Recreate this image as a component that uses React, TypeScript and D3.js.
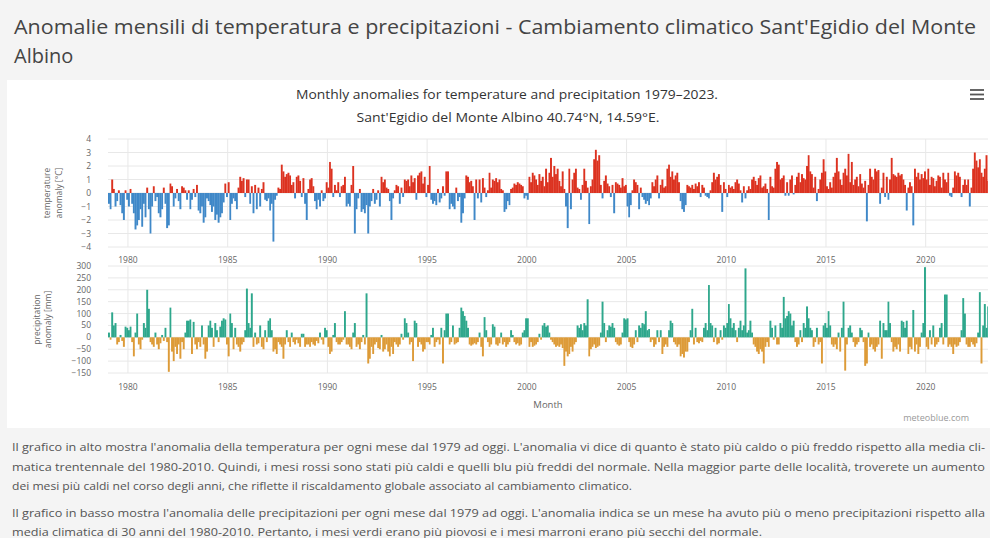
import React from "react";
import * as d3 from "d3";

const START_YEAR = 1979;

// Monthly temperature anomaly [°C], Jan 1979 – Feb 2023 (one row per year)
const temperatureAnomaly: number[] = [
  -0.8, -1.2, 1.0, 0.3, -1.0, -0.6, 0.2, -0.9, -1.5, -2.0, 0.2, -0.5, // 1979
  -1.0, 0.3, -0.8, -1.5, -2.7, -2.4, -2.0, -1.2, -2.5, -0.8, -1.8, 0.4, // 1980
  -1.2, -3.0, -1.0, 0.5, -0.6, -0.3, -1.5, -1.8, -1.2, 0.4, -0.8, -2.6, // 1981
  -2.4, 0.7, 0.5, -1.0, -0.4, 0.3, -0.6, -1.2, 0.5, 0.4, 0.2, -0.5, // 1982
  0.2, -1.2, -0.5, 0.3, -0.3, 0.6, -1.3, -1.5, -1.0, -2.2, -1.8, -0.4, // 1983
  -0.6, -0.9, -1.4, -1.0, -2.0, -1.6, -2.2, -1.8, -1.5, -0.7, 0.7, -0.3, // 1984
  0.8, -2.0, -0.8, -0.4, -0.6, -1.2, 0.4, 1.2, 0.9, 1.1, -0.3, 1.0, // 1985
  1.0, -0.8, 0.5, -1.5, 0.6, -1.2, 0.4, -1.0, 0.3, 0.8, -0.5, -0.6, // 1986
  -0.4, -1.3, -0.8, -3.6, -0.5, -0.2, 0.4, 0.3, 2.1, 1.6, 1.2, 1.4, // 1987
  1.5, 1.3, 0.6, 0.8, -0.4, 1.2, 1.3, 0.9, -0.3, 1.1, -0.8, -2.0, // 1988
  0.3, 1.0, 1.1, 0.5, -0.6, -1.2, -0.5, -1.0, 0.2, -0.6, -0.4, 0.8, // 1989
  0.4, 2.3, 1.8, -0.3, 0.6, 0.2, 0.8, -0.3, 0.5, 0.6, 1.2, -1.0, // 1990
  -0.8, -1.0, 0.6, 2.0, -3.0, -1.2, -0.4, 0.3, -1.4, -1.2, -1.5, -0.9, // 1991
  -3.0, -1.0, -0.6, 0.3, -0.8, -0.5, 0.2, -1.0, 1.2, 0.8, 1.0, 0.4, // 1992
  0.3, -0.6, -2.0, -0.4, 0.2, 0.6, 0.5, -0.8, 0.4, -0.3, 1.0, 0.9, // 1993
  1.0, 0.5, 1.3, 0.8, 1.1, -0.5, 1.3, 1.5, 1.6, 0.7, 1.2, -0.3, // 1994
  0.6, 2.0, -0.5, -0.8, -0.6, -0.9, 0.3, -0.7, -0.4, 0.5, -0.2, 1.6, // 1995
  1.6, -1.2, -0.8, -1.0, -1.2, 0.4, -0.6, -0.3, -2.2, -1.5, -0.4, 1.3, // 1996
  1.2, 0.8, 0.9, 0.5, -2.0, 1.0, -0.4, 1.0, -0.7, 1.1, 0.4, -0.3, // 1997
  0.2, 1.5, 0.4, 1.0, 0.9, 1.1, 0.8, 1.0, 0.3, 0.2, -1.4, -1.2, // 1998
  -0.6, -0.9, 0.3, 0.4, 0.7, 0.6, 0.8, 0.7, 0.6, 0.5, -0.4, -0.2, // 1999
  -0.5, 1.2, 0.8, 1.5, 1.3, 1.0, 0.6, 1.4, 0.9, 1.2, 0.5, 1.8, // 2000
  0.8, 1.5, 2.6, 1.2, 2.0, 1.4, 1.8, 0.9, 0.5, 1.6, 0.3, -1.0, // 2001
  -2.6, 1.8, -1.2, 1.0, 1.5, 1.8, 0.4, 0.3, -0.5, 0.6, 1.8, 0.9, // 2002
  0.4, -2.3, 0.5, 1.0, 2.5, 3.2, 2.4, 2.8, 0.6, -0.4, 0.9, 1.3, // 2003
  0.7, 0.5, -0.3, 0.6, -1.5, 0.8, 0.7, 0.6, 0.4, 1.1, 0.5, 0.6, // 2004
  -1.0, -1.8, -0.9, 0.2, 1.0, 0.8, 0.6, -1.2, 0.4, -0.3, -0.5, -0.8, // 2005
  -0.6, -0.9, -0.4, 0.8, 0.5, 1.0, 1.3, -0.4, 0.6, 1.0, 0.4, 0.5, // 2006
  1.8, 2.1, 1.2, 1.6, 1.0, 1.3, 1.5, 0.8, -0.6, -1.2, -1.4, -0.9, // 2007
  0.6, 0.5, 0.4, 0.6, 0.3, 0.7, 0.5, 0.8, -0.3, 0.6, 0.4, -0.2, // 2008
  -0.3, -0.4, 0.2, 0.8, 1.5, 1.0, 1.2, 1.4, 0.6, -1.4, 0.8, 0.3, // 2009
  -0.3, 0.6, 0.4, 0.5, 0.3, 0.8, 1.0, 0.7, 0.2, -0.7, 0.5, -0.4, // 2010
  0.2, 0.5, 0.3, 1.0, 1.2, 0.9, 0.6, 1.1, 1.3, 0.4, 0.5, 0.7, // 2011
  0.3, -2.0, 1.2, 0.5, 0.4, 1.8, 2.3, 2.1, 1.0, 1.1, 1.3, -0.2, // 2012
  0.8, -0.2, 1.0, 1.3, -0.1, 0.6, 1.2, 1.5, 0.8, 1.4, 1.1, 1.0, // 2013
  2.0, 2.8, 1.6, 1.4, 0.4, 1.2, -0.6, 0.3, 1.0, 1.5, 2.5, 1.6, // 2014
  0.5, 0.3, 0.8, 0.4, 1.2, 1.5, 2.6, 1.6, 1.0, 0.6, 1.5, 1.8, // 2015
  1.3, 2.9, 0.8, 2.3, 0.6, 1.0, 1.2, 0.5, 1.4, 0.7, 0.4, 0.9, // 2016
  -2.1, 0.6, 1.8, 1.2, 1.0, 1.8, 1.6, 1.7, -0.8, 0.4, 1.5, -0.3, // 2017
  1.2, -0.5, 1.0, 2.6, 1.4, 1.3, 1.2, 1.5, 1.3, 1.4, 1.0, 0.6, // 2018
  -1.3, 0.4, 0.8, 0.5, -2.4, 1.8, 1.2, 1.5, 1.0, 1.4, 1.1, 1.6, // 2019
  1.0, 1.8, 0.6, 1.2, 1.1, 0.5, 0.9, 1.3, 1.2, 0.4, 1.5, 1.0, // 2020
  0.8, 1.5, -0.2, -0.3, 0.4, 1.6, 1.3, 1.5, 1.2, -0.3, 0.6, 1.0, // 2021
  0.6, 1.0, -1.0, 0.4, 1.8, 3.0, 2.4, 1.9, 2.5, 1.5, 1.2, 1.8, // 2022
  2.8, 0.9, // 2023
];

// Monthly precipitation anomaly [mm], Jan 1979 – Feb 2023 (one row per year)
const precipitationAnomaly: number[] = [
  20, -10, 105, 50, 60, -30, -20, 10, -15, -40, 45, 40, // 1979
  30, 45, -20, -80, 20, 100, -30, -50, -10, 60, 40, 200, // 1980
  120, -20, -30, -40, 20, -30, -50, -25, 10, -15, 40, -20, // 1981
  -145, 125, -60, -100, -40, -70, -30, -90, -20, -50, 20, 70, // 1982
  70, 75, -70, 65, -30, -50, -20, -40, 50, -30, -90, -60, // 1983
  50, 70, 40, -40, 60, 30, -20, 45, 70, 80, 75, -30, // 1984
  -80, 100, 60, -50, 40, -30, -40, -60, -30, -20, 30, 205, // 1985
  60, 40, 185, -40, 20, -30, -25, 50, -40, -50, 30, -20, // 1986
  70, 80, 30, -60, -50, -70, -20, -30, -40, -90, -30, 30, // 1987
  -20, -40, 20, -20, -30, -10, -25, -40, 15, 15, -40, -30, // 1988
  -30, -40, -20, -30, -35, -15, -25, 20, -10, -30, 40, 30, // 1989
  -40, -70, -60, 10, 60, -20, -30, -30, -20, -10, 110, -30, // 1990
  -30, -40, -50, 20, 60, -40, -30, -50, -20, 10, -30, 185, // 1991
  -110, -90, -40, -70, -30, -20, -45, -50, 10, -60, -50, -30, // 1992
  -60, -80, -40, -70, -20, -30, -40, -30, 15, -10, 80, 60, // 1993
  20, -30, -20, -100, 70, 60, -40, -20, -30, -60, -50, -20, // 1994
  -20, -30, 10, 40, -40, -20, -10, -30, 40, -110, 30, 100, // 1995
  100, -30, -20, 50, -30, -25, -20, 40, 125, 110, 90, 70, // 1996
  40, -30, -35, -30, -25, -30, -20, 20, -40, -80, 85, 30, // 1997
  -20, -40, -30, 55, 45, -30, -35, -25, 20, -30, -20, -40, // 1998
  -30, -20, 30, 10, -20, -30, -25, -35, -30, 20, 30, 80, // 1999
  80, -40, -20, -40, -35, -30, -20, 15, -10, 50, 60, 45, // 2000
  50, 20, -10, -20, -30, -40, -35, -40, -30, -45, -120, -60, // 2001
  -80, -70, -40, -60, -30, -20, 50, 40, 55, 30, 60, 50, // 2002
  160, -80, -50, -40, -30, -45, -40, -35, 20, 150, 60, -20, // 2003
  30, 50, 45, 60, 40, -20, -30, -35, -30, 20, 80, 75, // 2004
  80, -20, -40, -45, -30, 30, -20, 50, 40, 60, 55, 110, // 2005
  30, 35, -20, -10, -40, -30, 30, -20, 30, -70, -40, -30, // 2006
  -40, 30, 70, 60, -20, -30, -40, -30, -80, -70, -85, -60, // 2007
  -60, -20, 30, 120, -30, 40, -20, -25, -15, -20, 40, 60, // 2008
  30, 220, 60, 50, -20, 40, -30, -25, 30, -10, 50, 40, // 2009
  60, 140, 80, 40, 60, 30, -20, 40, 70, 30, 50, 290, // 2010
  20, 30, 70, 20, -30, -40, -60, -70, -50, -60, -110, -40, // 2011
  -20, -40, 70, 40, -10, 50, -30, -30, 60, 40, 170, 80, // 2012
  90, 110, 100, 50, 70, -20, -40, -30, 30, -20, 60, 40, // 2013
  130, 80, 40, 30, -40, -20, 40, -30, -20, -110, 50, 60, // 2014
  40, 110, 50, -30, -40, -30, -50, 20, -60, 40, 150, -140, // 2015
  -30, 40, 50, 20, -20, -40, -30, -20, 40, 30, -20, -120, // 2016
  -110, 20, -40, -30, -50, -60, -40, -30, 70, -90, 60, 30, // 2017
  30, 150, 60, -20, -60, -40, -50, -30, -60, 70, 65, 40, // 2018
  70, -70, -40, -50, 115, -60, -30, -70, -40, 20, 60, 295, // 2019
  -40, -50, 30, -30, 50, -40, -30, -20, 40, 60, -30, 180, // 2020
  180, -40, -30, -40, -70, -30, -40, -35, -20, 30, 165, 100, // 2021
  -30, -40, -40, -20, -30, -40, -25, 20, 190, -110, 50, 140, // 2022
  40, 130, // 2023
];

const yearTicks = [1980, 1985, 1990, 1995, 2000, 2005, 2010, 2015, 2020];
const temperatureTicks = [4, 3, 2, 1, 0, -1, -2, -3, -4];
const precipitationTicks = [300, 250, 200, 150, 100, 50, 0, -50, -100, -150];

const pageTitle = [
  "Anomalie mensili di temperatura e precipitazioni - Cambiamento climatico Sant'Egidio del Monte",
  "Albino",
];
const chartTitle = "Monthly anomalies for temperature and precipitation 1979–2023.";
const chartSubtitle = "Sant'Egidio del Monte Albino 40.74°N, 14.59°E.";
const paragraphLines = [
  "Il grafico in alto mostra l'anomalia della temperatura per ogni mese dal 1979 ad oggi. L'anomalia vi dice di quanto è stato più caldo o più freddo rispetto alla media cli-",
  "matica trentennale del 1980-2010. Quindi, i mesi rossi sono stati più caldi e quelli blu più freddi del normale. Nella maggior parte delle località, troverete un aumento",
  "dei mesi più caldi nel corso degli anni, che riflette il riscaldamento globale associato al cambiamento climatico.",
  "Il grafico in basso mostra l'anomalia delle precipitazioni per ogni mese dal 1979 ad oggi. L'anomalia indica se un mese ha avuto più o meno precipitazioni rispetto alla",
  "media climatica di 30 anni del 1980-2010. Pertanto, i mesi verdi erano più piovosi e i mesi marroni erano più secchi del normale.",
];

const FONT = "'Open Sans', 'Noto Sans', sans-serif";

export default function App() {
  const W = 990;
  const H = 538;
  const plotLeft = 108;
  const plotRight = 988;

  const x = d3
    .scaleTime()
    .domain([new Date(1979, 0, 1), new Date(2023, 1, 15)])
    .range([plotLeft, plotRight]);

  const yT = d3.scaleLinear().domain([-4, 4]).range([247, 139]);
  const yP = d3.scaleLinear().domain([-150, 300]).range([373, 266]);

  const monthX = (i: number) => x(new Date(START_YEAR, i, 1));
  const monthW = (i: number) => x(new Date(START_YEAR, i + 1, 1)) - x(new Date(START_YEAR, i, 1));

  const tempBars = temperatureAnomaly.map((v, i) => {
    const y0 = yT(0);
    const y1 = yT(v);
    return (
      <rect
        key={"t" + i}
        x={monthX(i)}
        width={monthW(i) + 0.25}
        y={Math.min(y0, y1)}
        height={Math.abs(y1 - y0)}
        fill={v >= 0 ? "#dc3220" : "#3f88c8"}
      />
    );
  });

  const precBars = precipitationAnomaly.map((v, i) => {
    const y0 = yP(0);
    const y1 = yP(v);
    return (
      <rect
        key={"p" + i}
        x={monthX(i)}
        width={monthW(i) + 0.25}
        y={Math.min(y0, y1)}
        height={Math.abs(y1 - y0)}
        fill={v >= 0 ? "#2ea78c" : "#dd9b38"}
      />
    );
  });

  const grid = "#e8e8e8";
  const tickColor = "#666";

  return (
    <svg
      width={W}
      height={H}
      style={{ position: "absolute", left: 0, top: 0, fontFamily: FONT }}
    >
      <defs>
        <clipPath id="plotT">
          <rect x={plotLeft} y={130} width={plotRight - plotLeft} height={125} />
        </clipPath>
        <clipPath id="plotP">
          <rect x={plotLeft} y={258} width={plotRight - plotLeft} height={125} />
        </clipPath>
      </defs>
      <rect x={0} y={0} width={W} height={H} fill="#f4f4f4" />
      {/* page title */}
      <text x={14} y={34} fontSize={20} fill="#444" textLength={962} lengthAdjust="spacingAndGlyphs">
        {pageTitle[0]}
      </text>
      <text x={14} y={63} fontSize={20} fill="#444">
        {pageTitle[1]}
      </text>

      {/* chart panel */}
      <rect x={7} y={80} width={983} height={348} fill="#ffffff" />
      <text x={507} y={99} fontSize={12} fill="#333" textAnchor="middle" textLength={422} lengthAdjust="spacingAndGlyphs">
        {chartTitle}
      </text>
      <text x={508} y={122} fontSize={12} fill="#333" textAnchor="middle" textLength={303} lengthAdjust="spacingAndGlyphs">
        {chartSubtitle}
      </text>
      {/* menu icon */}
      {[0, 1, 2].map((k) => (
        <line key={"m" + k} x1={970} x2={984} y1={90 + k * 4.5} y2={90 + k * 4.5} stroke="#555" strokeWidth={1.8} />
      ))}

      {/* temperature panel grid */}
      {temperatureTicks.map((t) => (
        <line key={"gt" + t} x1={plotLeft} x2={plotRight} y1={yT(t)} y2={yT(t)} stroke={grid} strokeWidth={1} />
      ))}
      {yearTicks.map((yr) => (
        <line key={"vt" + yr} x1={x(new Date(yr, 0, 1))} x2={x(new Date(yr, 0, 1))} y1={yT(4)} y2={yT(-4)} stroke={grid} strokeWidth={1} />
      ))}
      {/* precipitation panel grid */}
      {precipitationTicks.map((t) => (
        <line key={"gp" + t} x1={plotLeft} x2={plotRight} y1={yP(t)} y2={yP(t)} stroke={grid} strokeWidth={1} />
      ))}
      {yearTicks.map((yr) => (
        <line key={"vp" + yr} x1={x(new Date(yr, 0, 1))} x2={x(new Date(yr, 0, 1))} y1={yP(300)} y2={yP(-150)} stroke={grid} strokeWidth={1} />
      ))}

      <g clipPath="url(#plotT)">{tempBars}</g>
      <g clipPath="url(#plotP)">{precBars}</g>

      {/* y tick labels */}
      {temperatureTicks.map((t) => (
        <text key={"lt" + t} x={91} y={yT(t) + 3} fontSize={8.5} fill={tickColor} textAnchor="end">
          {t === 0 ? "0" : t < 0 ? "−" + Math.abs(t) : String(t)}
        </text>
      ))}
      {precipitationTicks.map((t) => (
        <text key={"lp" + t} x={91} y={yP(t) + 3} fontSize={8.5} fill={tickColor} textAnchor="end">
          {t < 0 ? "−" + Math.abs(t) : String(t)}
        </text>
      ))}

      {/* x tick labels */}
      {yearTicks.map((yr) => (
        <text key={"xt" + yr} x={x(new Date(yr, 0, 1))} y={263} fontSize={8.5} fill={tickColor} textAnchor="middle">
          {yr}
        </text>
      ))}
      {yearTicks.map((yr) => (
        <text key={"xp" + yr} x={x(new Date(yr, 0, 1))} y={390} fontSize={8.5} fill={tickColor} textAnchor="middle">
          {yr}
        </text>
      ))}

      {/* axis titles */}
      <g transform={`translate(0, ${yT(0)})`}>
        <text transform="translate(50,0) rotate(-90)" fontSize={8.5} fill={tickColor} textAnchor="middle">
          temperature
        </text>
        <text transform="translate(62,0) rotate(-90)" fontSize={8.5} fill={tickColor} textAnchor="middle">
          anomaly [°C]
        </text>
      </g>
      <g transform={`translate(0, ${(yP(300) + yP(-150)) / 2})`}>
        <text transform="translate(40,0) rotate(-90)" fontSize={8.5} fill={tickColor} textAnchor="middle">
          precipitation
        </text>
        <text transform="translate(51,0) rotate(-90)" fontSize={8.5} fill={tickColor} textAnchor="middle">
          anomaly [mm]
        </text>
      </g>
      <text x={548} y={408} fontSize={9.5} fill={tickColor} textAnchor="middle">
        Month
      </text>
      <text x={969} y={421} fontSize={9} fill="#999" textAnchor="end">
        meteoblue.com
      </text>

      {/* description paragraphs */}
      <text x={12} y={451} fontSize={11} fill="#555" textLength={973} lengthAdjust="spacingAndGlyphs">
        {paragraphLines[0]}
      </text>
      <text x={12} y={471} fontSize={11} fill="#555" textLength={973} lengthAdjust="spacingAndGlyphs">
        {paragraphLines[1]}
      </text>
      <text x={12} y={490} fontSize={11} fill="#555" textLength={620} lengthAdjust="spacingAndGlyphs">
        {paragraphLines[2]}
      </text>
      <text x={12} y={517} fontSize={11} fill="#555" textLength={973} lengthAdjust="spacingAndGlyphs">
        {paragraphLines[3]}
      </text>
      <text x={12} y={536} fontSize={11} fill="#555" textLength={750} lengthAdjust="spacingAndGlyphs">
        {paragraphLines[4]}
      </text>
    </svg>
  );
}
